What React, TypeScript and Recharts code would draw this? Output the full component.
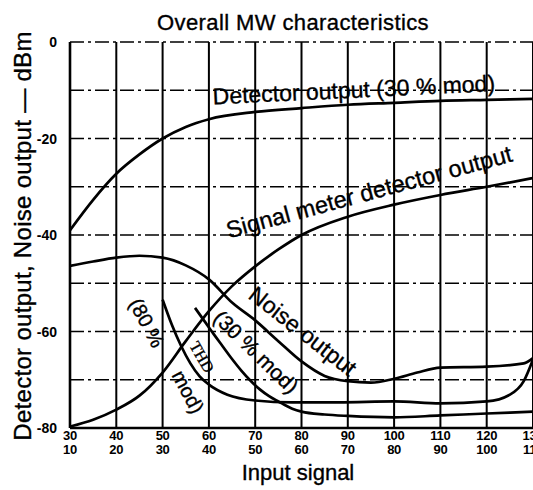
import React from "react";
import { LineChart, Line, XAxis, YAxis, ReferenceLine, ReferenceDot } from "recharts";

// ---- tick labels ----
const xTicksTop = [30, 40, 50, 60, 70, 80, 90, 100, 110, 120, 130];
const xTicksBottom = [10, 20, 30, 40, 50, 60, 70, 80, 90, 100, 110];
const yTicks = [0, -20, -40, -60, -80];
const yGrid = [0, -10, -20, -30, -40, -50, -60, -70];
const xGrid = [40, 50, 60, 70, 80, 90, 100, 110, 120, 130];

// ---- series (input signal vs dBm) ----
const detectorX = [30, 35, 40, 45, 50, 55, 60, 70, 80, 90, 100, 110, 120, 130];
const detectorDb = [-39, -32.7, -27.3, -23.3, -20, -17.6, -16, -14.5, -13.7, -13, -12.6, -12.2, -12, -11.8];

const meterX = [30, 35, 40, 45, 50, 55, 60, 65, 70, 75, 80, 90, 100, 110, 120, 130];
const meterDb = [-79.7, -78.3, -76.2, -73.3, -68.5, -62, -55.8, -50.6, -46.5, -43, -40, -36.2, -33.7, -31.7, -30, -28.2];

const noiseX = [30, 35, 40, 45, 50, 55, 60, 65, 70, 75, 80, 85, 90, 95, 100, 105, 110, 120, 128, 130];
const noiseDb = [-46.4, -45.5, -44.7, -44.3, -44.7, -46.3, -49.2, -54, -57.7, -62, -66.2, -69.2, -70.3, -70.6, -69.8, -68.5, -67.5, -67.3, -66.6, -65.5];

const thd80X = [50, 52, 54, 56, 58, 60, 64, 70, 78, 88, 100, 110, 120, 125, 128, 130];
const thd80Db = [-53.4, -58.6, -63, -66.6, -69.3, -71, -73.1, -74.3, -74.7, -74.7, -74.5, -74.9, -74.5, -73.1, -70.3, -65.8];

const thd30X = [57, 59, 61, 63, 65, 67, 69, 71, 73, 75, 78, 80, 85, 90, 100, 110, 120, 130];
const thd30Db = [-55.1, -57.8, -60.5, -63.1, -65.7, -68.1, -70.2, -72, -73.4, -74.5, -76, -76.6, -77.2, -77.5, -77.8, -77.4, -77, -76.6];

const zip = (xs: number[], ys: number[]) => xs.map((x, i) => ({ x, y: ys[i] }));

const series = [
  zip(detectorX, detectorDb),
  zip(meterX, meterDb),
  zip(noiseX, noiseDb),
  zip(thd80X, thd80Db),
  zip(thd30X, thd30Db),
];

// ---- curve annotations (data coordinates) ----
const annotations = [
  { text: "Detector output (30 % mod)", x: 91.3, y: -9.9, angle: -2.7, size: 23, serif: false },
  { text: "Signal meter detector output", x: 94.6, y: -31.1, angle: -15.2, size: 23.5, serif: false },
  { text: "Noise output", x: 80.3, y: -59.9, angle: 38, size: 23, serif: false },
  { text: "(30 % mod)", x: 70.2, y: -64.2, angle: 44, size: 21, serif: false },
  { text: "(80 %", x: 46.6, y: -58.2, angle: 62, size: 20, serif: false },
  { text: "mod)", x: 55.5, y: -72.5, angle: 62, size: 20, serif: false },
  { text: "THD", x: 58.5, y: -65.3, angle: 60, size: 16, serif: true },
];

const FONT = "'Liberation Sans', Arial, Helvetica, sans-serif";

const XTick = (p: any) => {
  const i = xTicksTop.indexOf(p.payload.value);
  return (
    <g>
      <text x={p.x} y={p.y + 12} textAnchor="middle" fontFamily={FONT} fontWeight="bold" fontSize={13} fill="#000" letterSpacing={-0.3}>
        {xTicksTop[i]}
      </text>
      <text x={p.x} y={p.y + 25.5} textAnchor="middle" fontFamily={FONT} fontWeight="bold" fontSize={13} fill="#000" letterSpacing={-0.3}>
        {xTicksBottom[i]}
      </text>
    </g>
  );
};

const YTick = (p: any) => (
  <text x={p.x} y={p.y + 5} textAnchor="end" fontFamily={FONT} fontWeight="bold" fontSize={14} fill="#000">
    {String(p.payload.value)}
  </text>
);

export default function App() {
  return (
    <div style={{ position: "absolute", left: 0, top: 0, width: 533, height: 490, background: "#fff", overflow: "hidden" }}>
      <LineChart width={533} height={490} margin={{ top: 42, right: 0, bottom: 0, left: 0 }}>
        <XAxis
          dataKey="x"
          type="number"
          domain={[30, 130]}
          ticks={xTicksTop}
          interval={0}
          tick={<XTick />}
          tickLine={false}
          tickSize={0}
          tickMargin={0}
          height={62}
          axisLine={{ stroke: "#000", strokeWidth: 2.6 }}
          allowDataOverflow
        />
        <YAxis
          type="number"
          domain={[-80, 0]}
          ticks={yTicks}
          interval={0}
          tick={<YTick />}
          tickLine={false}
          tickSize={0}
          tickMargin={13}
          width={70}
          axisLine={{ stroke: "#000", strokeWidth: 2.6 }}
          allowDataOverflow
        />
        {yGrid.map((v) => (
          <ReferenceLine key={"h" + v} y={v} stroke="#000" strokeWidth={1.5} strokeDasharray="14 4 3 4" />
        ))}
        {xGrid.map((v) => (
          <ReferenceLine key={"v" + v} x={v} stroke="#000" strokeWidth={2} />
        ))}
        {series.map((d, i) => (
          <Line
            key={i}
            data={d}
            dataKey="y"
            type="monotone"
            stroke="#000"
            strokeWidth={2.7}
            dot={false}
            isAnimationActive={false}
          />
        ))}
        {annotations.map((a, i) => (
          <ReferenceDot
            key={"a" + i}
            x={a.x}
            y={a.y}
            r={0}
            ifOverflow="visible"
            shape={(p: any) => (
              <text
                x={p.cx}
                y={p.cy}
                transform={`rotate(${a.angle} ${p.cx} ${p.cy})`}
                textAnchor="middle"
                dominantBaseline="central"
                fontFamily={a.serif ? "'Liberation Serif', serif" : FONT}
                fontSize={a.size}
                fill="#000"
                stroke="#000"
                strokeWidth={0.35}
              >
                {a.text}
              </text>
            )}
          />
        ))}
      </LineChart>
      <svg width={533} height={490} style={{ position: "absolute", left: 0, top: 0, pointerEvents: "none" }}>
        <text x={293} y={30} textAnchor="middle" fontFamily={FONT} fontSize={22} letterSpacing={0.4} fill="#000" stroke="#000" strokeWidth={0.35}>
          Overall MW characteristics
        </text>
        <text
          x={0}
          y={0}
          transform="translate(31 236) rotate(-90)"
          textAnchor="middle"
          fontFamily={FONT}
          fontSize={24}
          letterSpacing={0.3}
          fill="#000"
          stroke="#000"
          strokeWidth={0.35}
        >
          Detector output, Noise output — dBm
        </text>
        <text x={298} y={480} textAnchor="middle" fontFamily={FONT} fontSize={22} fill="#000" stroke="#000" strokeWidth={0.35}>
          Input signal
        </text>
      </svg>
    </div>
  );
}
